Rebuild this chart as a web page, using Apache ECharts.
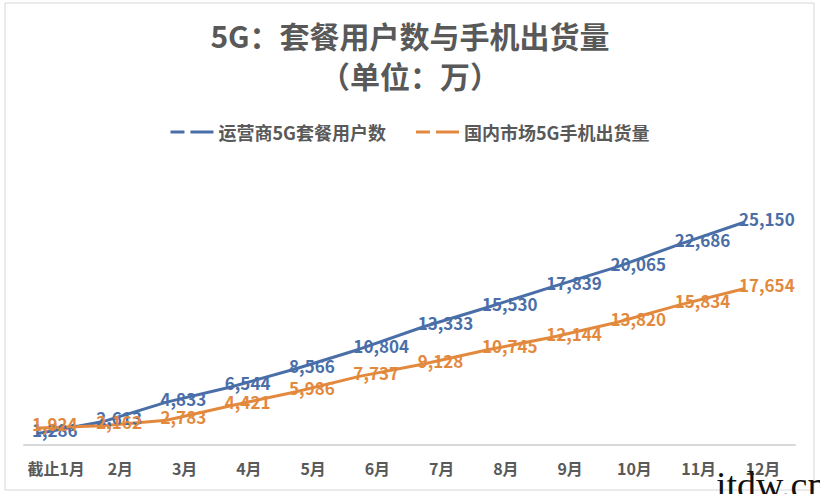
<!DOCTYPE html>
<html><head><meta charset="utf-8">
<script src="https://cdn.jsdelivr.net/npm/echarts@6/dist/echarts.min.js"></script>
<style>html,body{margin:0;padding:0;background:#fff}#c{width:820px;height:494px}</style>
</head><body><div id="c"></div>
<script>
const categories = ['截止1月','2月','3月','4月','5月','6月','7月','8月','9月','10月','11月','12月'];
const userSeriesName = '运营商5G套餐用户数';
const phoneSeriesName = '国内市场5G手机出货量';
const users = [1286, 2613, 4833, 6544, 8566, 10804, 13333, 15530, 17839, 20065, 22686, 25150];
const phones = [1924, 2162, 2783, 4421, 5986, 7737, 9128, 10745, 12144, 13820, 15834, 17654];

const BLUE = '#4a6ea8', ORANGE = '#e3893d', GRAY = '#595959';
const FONT = '"Noto Sans CJK SC", "Noto Sans", sans-serif';
const fmt = v => String(v).replace(/\B(?=(\d{3})+(?!\d))/g, ',');
const dashIcon = 'path://M0,0 H14 V3 H0 Z M20,0 H43 V3 H20 Z';

const chart = echarts.init(document.getElementById('c'), null, {renderer: 'svg'});
function lineSeries(name, data, color) {
  return {
    name, type: 'line', data, xAxisIndex: 1, yAxisIndex: 1,
    symbol: 'circle', symbolSize: 0, showSymbol: true,
    lineStyle: {color, width: 3}, itemStyle: {color},
    label: {
      show: true, position: 'right', distance: 0,
      color, fontSize: 17, fontWeight: 'bold', fontFamily: FONT,
      formatter: p => fmt(p.value)
    },
    labelLayout: {hideOverlap: false, dx: -6, dy: -4}
  };
}
chart.setOption({
  animation: false,
  backgroundColor: '#fff',
  title: {
    text: '5G：套餐用户数与手机出货量\n（单位：万）',
    left: 'center', top: 10,
    textStyle: {fontSize: 30, fontWeight: 'bold', color: GRAY, fontFamily: FONT, lineHeight: 40}
  },
  legend: {
    top: 118, left: 'center', itemGap: 30, itemWidth: 43, itemHeight: 3,
    data: [{name: userSeriesName, icon: dashIcon}, {name: phoneSeriesName, icon: dashIcon}],
    textStyle: {fontSize: 18, color: GRAY, fontFamily: FONT, fontWeight: 'bold'}
  },
  grid: [
    {left: 24, right: 25, top: 179, bottom: 49},
    {left: 38, right: 75, top: 179, bottom: 49}
  ],
  xAxis: [
    {type: 'category', gridIndex: 0, data: categories, boundaryGap: true,
     axisLine: {lineStyle: {color: '#d9d9d9', width: 2}}, axisTick: {show: false},
     axisLabel: {color: GRAY, fontSize: 16, fontWeight: 'bold', fontFamily: FONT, margin: 15, interval: 0}},
    {type: 'category', gridIndex: 1, data: categories, boundaryGap: false, show: false}
  ],
  yAxis: [
    {type: 'value', gridIndex: 0, min: 0, max: 30000, show: false, splitLine: {show: false}},
    {type: 'value', gridIndex: 1, min: 0, max: 30000, show: false, splitLine: {show: false}}
  ],
  series: [lineSeries(userSeriesName, users, BLUE), lineSeries(phoneSeriesName, phones, ORANGE)],
  graphic: [
    {type: 'rect', shape: {x: 5, y: 3, width: 809, height: 487}, style: {fill: 'none', stroke: '#d6d6d6', lineWidth: 1}, silent: true},
    {type: 'text', left: 716, top: 466, style: {text: 'itdw.cn', font: '38px "Liberation Serif", serif', fill: '#111'}, z: 100}
  ]
});
</script></body></html>
